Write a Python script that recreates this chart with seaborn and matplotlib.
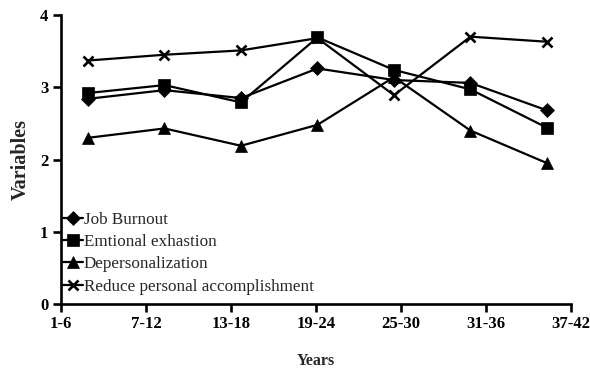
import matplotlib
matplotlib.use("Agg")
import matplotlib.pyplot as plt
import seaborn as sns
import numpy as np
import pandas as pd

categories = ["1-6", "7-12", "13-18", "19-24", "25-30", "31-36", "37-42"]
job_burnout = [2.84, 2.96, 2.85, 3.26, 3.10, 3.06, 2.68]
emotional_exhaustion = [2.92, 3.03, 2.79, 3.69, 3.24, 2.97, 2.44]
depersonalization = [2.30, 2.43, 2.19, 2.48, 3.14, 2.40, 1.95]
reduce_accomplishment = [3.37, 3.45, 3.51, 3.68, 2.89, 3.70, 3.63]

series_names = ["Job Burnout", "Emtional exhastion", "Depersonalization",
                "Reduce personal accomplishment"]
series_values = [job_burnout, emotional_exhaustion, depersonalization, reduce_accomplishment]
markers = ["D", "s", "^", "x"]
msizes = [7, 8, 8.5, 7.5]

sns.set_theme(style="white")
plt.rcParams["font.family"] = ["Liberation Serif", "DejaVu Serif"]

fig = plt.figure(figsize=(5.9, 3.72), dpi=100)
ax = fig.add_axes([61/590, 1 - 304/372, (571-61)/590, (304-15)/372])

rows = []
for name, vals in zip(series_names, series_values):
    for i, v in enumerate(vals):
        rows.append({"series": name, "idx": i, "value": v})
df = pd.DataFrame(rows)

for name, m, ms in zip(series_names, markers, msizes):
    sub = df[df["series"] == name]
    sns.lineplot(data=sub, x="idx", y="value", ax=ax, color="black", linewidth=1.6,
                 marker=m, markersize=ms, markeredgewidth=1.9 if m == "x" else 0.5,
                 markeredgecolor="black", markerfacecolor="black", label=name,
                 clip_on=False)

n = len(categories)
xlo, xhi = -0.353, 6.314
ax.set_xlim(xlo, xhi)
ax.set_xticks(np.linspace(xlo, xhi, n))
ax.set_xticklabels(categories)
ax.set_ylim(0, 4)
ax.set_yticks([0, 1, 2, 3, 4])
ax.set_yticklabels(["0", "1", "2", "3", "4"])

for s in ["top", "right"]:
    ax.spines[s].set_visible(False)
for s in ["left", "bottom"]:
    ax.spines[s].set_linewidth(1.9)
    ax.spines[s].set_color("black")
ax.tick_params(axis="both", direction="out", length=6, width=1.9, colors="black",
               labelsize=12, pad=3, left=True, bottom=True)
for lab in ax.get_xticklabels() + ax.get_yticklabels():
    lab.set_fontweight("bold")

ax.set_xlabel("Years", fontsize=11.5, fontweight="bold", labelpad=15)
ax.set_ylabel("Variables", fontsize=14.5, fontweight="bold", labelpad=7)

leg = ax.legend(loc="lower left", bbox_to_anchor=(0.004, 0.032), frameon=False,
                handlelength=1.15, handletextpad=0.05, labelspacing=0.37,
                fontsize=12.3, borderaxespad=0.0, borderpad=0.0)

fig.savefig("out.png", dpi=100)
